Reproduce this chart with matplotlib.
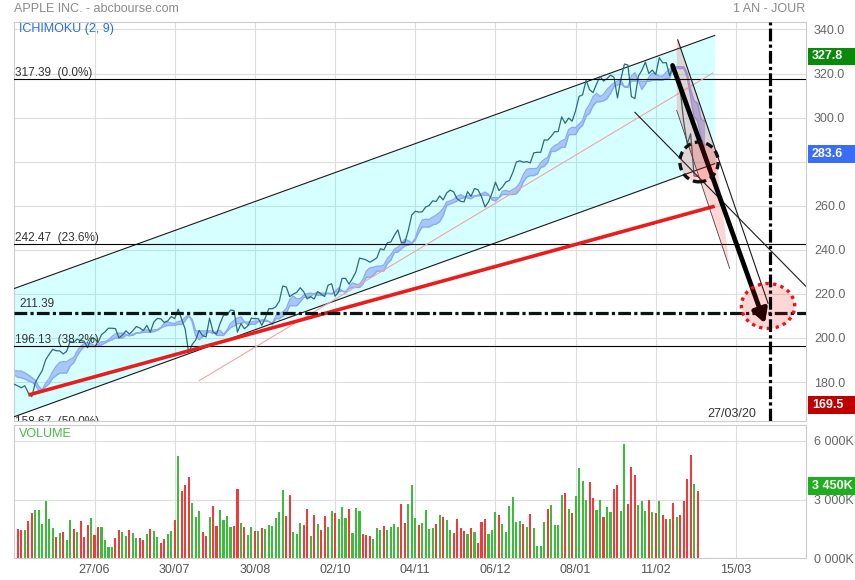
import numpy as np
import pandas as pd
import matplotlib
matplotlib.use('Agg')
import matplotlib.pyplot as plt
import matplotlib.transforms as mtransforms
from matplotlib.patches import Polygon, Ellipse, Rectangle

plt.rcParams['font.family'] = ['Liberation Sans', 'DejaVu Sans']

# ---- data (bar index 0 = first visible day) ----
# a few closes before the first visible bar, the ichimoku band needs them
warmup_close = [197.18, 185.72, 188.66, 190.92, 190.08, 189.00, 183.09, 186.60, 182.78, 179.66, 178.97]

close = [
    178.97, 178.23, 177.38, 178.30, 175.07, 173.30, 179.64, 182.54, 185.22, 190.15,
    192.58, 194.81, 194.19, 194.15, 192.74, 193.89, 198.45, 197.87, 199.46, 198.78,
    198.58, 195.57, 199.80, 199.74, 197.92, 201.55, 202.73, 204.41, 204.41, 204.23,
    200.02, 201.24, 203.23, 201.75, 203.30, 205.21, 204.50, 203.35, 205.66, 202.59,
    207.22, 208.84, 208.67, 207.02, 207.74, 209.68, 208.78, 213.04, 208.43, 204.02,
    193.34, 197.00, 199.04, 203.43, 200.99, 200.48, 208.97, 202.75, 201.74, 206.50,
    210.35, 210.36, 212.64, 212.46, 202.64, 206.49, 204.16, 205.53, 209.01, 208.74,
    208.74, 205.70, 209.19, 213.28, 213.26, 214.17, 216.70, 223.59, 223.09, 218.75,
    219.90, 220.70, 222.77, 220.96, 217.73, 218.72, 217.68, 221.03, 219.89, 218.82,
    223.97, 224.59, 218.96, 220.82, 227.01, 227.06, 224.40, 227.03, 230.09, 236.21,
    235.87, 235.32, 234.37, 235.28, 236.41, 240.51, 239.96, 243.18, 243.58, 246.58,
    249.05, 243.29, 243.26, 248.76, 255.82, 257.50, 257.13, 257.24, 259.43, 260.14,
    262.20, 261.96, 264.47, 262.64, 265.76, 267.10, 266.29, 263.19, 262.01, 261.78,
    266.37, 264.29, 267.84, 267.25, 264.16, 259.45, 261.74, 265.58, 270.71, 266.92,
    268.48, 270.77, 271.46, 275.15, 279.86, 280.41, 279.74, 280.02, 279.44, 284.00,
    284.27, 284.27, 289.91, 289.80, 291.52, 293.65, 293.65, 300.35, 297.43, 299.80,
    298.39, 303.19, 309.63, 310.33, 316.96, 312.68, 311.34, 315.24, 318.73, 316.57,
    317.70, 319.23, 318.31, 308.95, 317.69, 324.34, 323.87, 309.51, 308.66, 318.85,
    321.45, 325.21, 320.03, 321.55, 319.61, 327.20, 324.87, 324.95, 319.00, 323.62,
    320.30, 313.05, 298.18, 288.08, 292.65, 273.52, 273.36]

# volume in thousands
volume = [
    1672, 1517, 1448, 1431, 1931, 2293, 2448, 2448, 1741, 2914,
    2017, 1569, 1103, 1310, 1345, 948, 1948, 1517, 1328, 1914,
    1069, 1724, 2069, 1207, 1586, 1621, 914, 569, 569, 1034,
    1448, 1362, 1121, 1448, 1276, 1034, 1052, 914, 1224, 1483,
    1397, 1103, 793, 983, 1259, 1414, 1948, 5241, 3465, 3741,
    4138, 2810, 2103, 2431, 1362, 1155, 2086, 2672, 1672, 2448,
    1983, 2172, 1603, 1672, 3517, 1827, 1621, 1207, 1603, 1397,
    1379, 1569, 1483, 1724, 1655, 2069, 2345, 3483, 2172, 3258,
    1362, 1259, 1827, 1707, 2534, 1155, 2207, 1776, 1466, 2155,
    1586, 2396, 2293, 2034, 2621, 2052, 2500, 1310, 2552, 2396,
    1241, 1190, 1121, 966, 1534, 1448, 1672, 1431, 1603, 1741,
    1621, 2793, 1827, 2759, 3741, 2069, 1724, 1793, 2448, 1483,
    1569, 1741, 2190, 2121, 1965, 1466, 1310, 2017, 1552, 1414,
    1259, 1534, 1362, 793, 1845, 2000, 1259, 1466, 2379, 2224,
    1741, 1362, 2672, 3121, 1845, 1931, 1741, 1621, 2241, 1552,
    621, 621, 1879, 2534, 2707, 1690, 1690, 3259, 3328, 2500,
    2328, 3172, 4621, 3948, 2983, 3897, 3069, 2466, 3000, 2086,
    2621, 2345, 3534, 3759, 2397, 5862, 2759, 4655, 4241, 2707,
    2931, 2397, 3000, 2345, 2293, 2914, 2190, 2017, 2017, 2828,
    2086, 2190, 2914, 4034, 5293, 3776, 3450]

# g = green bar, r = red bar (10 bars per row)
vol_side = [
    "grrgrrgggg", "ggrgrggrgr", "rrgrrggggr", "rggrggrrgr", "ggrrggrgrr",
    "rgggrrgrrg", "gggrrgrggr", "grggggggrr", "gggrrgrgrr", "ggrgggrggg",
    "rrrgggrggg", "grrgggrggg", "grgrggrrrr", "grgrrrgggr", "ggggggrgrg",
    "gggrggggrg", "rggggrrggr", "ggrrggrrrg", "ggrgrgrrgr", "grrrrgr"]

xtick_pos = [23, 46, 69, 92, 115, 138, 161, 184, 207]
xtick_labels = ['27/06', '30/07', '30/08', '02/10', '04/11', '06/12', '08/01', '11/02', '15/03']
price_ticks = [180, 200, 220, 240, 260, 280, 300, 320, 340]

fib_levels = [317.39, 242.47, 196.13, 158.67]
fib_labels = ['317.39  (0.0%)', '242.47  (23.6%)', '196.13  (38.2%)', '158.67  (50.0%)']
support_level = 211.39

# user drawings: (bar, price) anchors
channel_x = [-0.1, 200.9]
channel_top = [222.4, 337.3]
channel_bot = [164.2, 279.1]
red_trend = ([4.0, 200.9], [174.1, 259.8])
pink_trend = ([53.0, 200.3], [180.6, 320.2])
cross_line = ([178.0, 227.0], [302.4, 223.5])
wedge = [(190.0, 335.3), (190.3, 335.3), (200.9, 287.4), (205.2, 231.5), (190.0, 303.3)]
wedge_edge_r = ([190.3, 216.2], [335.3, 215.7])
wedge_edge_l = ([190.0, 205.2], [303.3, 231.5])
arrow_from = (188.8, 323.7)
arrow_to = (215.3, 206.6)
black_ring = (196.4, 279.9, 11.0, 18.1)
red_ring = (216.2, 214.5, 15.3, 20.4)
target_bar = 216.7
target_label = '27/03/20'

last_high, last_mid, last_low = 327.8, 283.6, 169.5

# ---- ichimoku (2, 9) band ----
ichi_short, ichi_long, ichi_shift = 2, 9, 2
s = pd.Series(warmup_close + close, index=np.arange(-len(warmup_close), len(close)))
def midline(n):
    return (s.rolling(n).max() + s.rolling(n).min()) / 2
tenkan = midline(ichi_short)
kijun = midline(ichi_long)
span_a = (tenkan + kijun) / 2
band_x = s.index.values + ichi_shift

# ---- figure ----
W, H = 855, 580
fig = plt.figure(figsize=(W / 100, H / 100), dpi=100)
ax = fig.add_axes([14 / W, 1 - 421 / H, 791.7 / W, 399 / H])
axv = fig.add_axes([14 / W, 1 - 558.3 / H, 791.7 / W, 133.3 / H])

grid_c = '#dddddd'
for a in (ax, axv):
    a.set_xlim(-0.1, 227)
    a.set_axisbelow(True)
    a.grid(True, color=grid_c, lw=0.8)
    for sp in a.spines.values():
        sp.set_color('#cccccc')
        sp.set_linewidth(0.8)
    a.yaxis.tick_right()
    a.set_xticks(xtick_pos)
    a.tick_params(length=0, labelsize=9, labelcolor='#666666')

ax.set_ylim(162.3, 343.4)
ax.set_yticks(price_ticks)
# the 280 label sits under the blue last-value box in the original
ax.set_yticklabels(['' if v == 280 else f'{v:.1f}' for v in price_ticks])
ax.tick_params(axis='y', pad=6)
ax.tick_params(axis='x', labelbottom=False)

# channel
ax.fill_between(channel_x, channel_bot, channel_top, color='#00ffff', alpha=0.16, lw=0, zorder=1)
ax.plot(channel_x, channel_top, color='#1a1a1a', lw=0.8, zorder=3)
ax.plot(channel_x, channel_bot, color='#1a1a1a', lw=0.8, zorder=3)

# ichimoku band + price
ax.fill_between(band_x, span_a, kijun, color='#7d9cf4', alpha=0.55, lw=0, zorder=2)
ax.plot(band_x, span_a, color='#8ea9f3', lw=1.0, zorder=2)
ax.plot(band_x, kijun, color='#8ea9f3', lw=1.0, zorder=2)
ax.plot(s.index.values, s.values, color='#2b6c78', lw=0.9, zorder=3)

# fibonacci lines
for lvl, lab in zip(fib_levels, fib_labels):
    ax.axhline(lvl, color='black', lw=0.8, zorder=3)
    tr = mtransforms.blended_transform_factory(ax.transAxes, ax.transData) + \
        mtransforms.ScaledTranslation(0.5 / 72, 0.5 / 72, fig.dpi_scale_trans)
    ax.text(0, lvl, lab, transform=tr, fontsize=8.5, color='#333333', va='bottom', ha='left',
            clip_on=True, zorder=4)

dashdot = (0, (4, 1, 1, 1))
ax.axhline(support_level, color='#0a1414', lw=2.3, ls=dashdot, zorder=5)
tr = mtransforms.blended_transform_factory(ax.transAxes, ax.transData) + \
    mtransforms.ScaledTranslation(4 / 72, 2 / 72, fig.dpi_scale_trans)
ax.text(0, support_level, f'{support_level:.2f}', transform=tr, fontsize=8.5, color='#333333',
        va='bottom', ha='left', zorder=5)

# trend lines
ax.plot(*red_trend, color='#e81e1e', lw=2.6, solid_capstyle='butt', zorder=4)
ax.plot(*pink_trend, color='#f2a4a4', lw=0.8, zorder=3)
ax.plot(*cross_line, color='#1a1a1a', lw=0.8, zorder=5)

ax.add_patch(Polygon(wedge, closed=True, facecolor='#ff0000', alpha=0.16, lw=0, zorder=4))
ax.plot(*wedge_edge_r, color='#1a1a1a', lw=0.8, zorder=5)
ax.plot(*wedge_edge_l, color='#444444', lw=0.6, zorder=5)

ax.annotate('', xy=arrow_to, xytext=arrow_from,
            arrowprops=dict(arrowstyle='-|>,head_length=0.5,head_width=0.28', color='black',
                            lw=3.4, shrinkA=0, shrinkB=0, mutation_scale=16), zorder=6)

cx, cy, cw, ch = black_ring
ax.add_patch(Ellipse((cx, cy), cw, ch, facecolor=(1, 0, 0, 0.16), edgecolor='#111111',
                     lw=2.4, ls=(0, (2.2, 1.3)), zorder=6))
cx, cy, cw, ch = red_ring
ax.add_patch(Ellipse((cx, cy), cw, ch, facecolor=(1, 0, 0, 0.16), edgecolor='#ee1111',
                     lw=2.4, ls=(0, (1, 1.3)), zorder=6))

ax.axvline(target_bar, color='black', lw=2.3, ls=dashdot, zorder=7)
ax.annotate(target_label, xy=(target_bar, 162.3), xytext=(-10, 1), textcoords='offset points',
            ha='right', va='bottom', fontsize=9, color='#333333', zorder=7)

ax.text(19 / W, 1 - 29 / H, 'ICHIMOKU (2, 9)', transform=fig.transFigure, fontsize=9,
        color='#2a6fd6', va='center', ha='left')

# ---- volume ----
vx = np.arange(len(volume))
sides = ''.join(vol_side)
vcol = ['#3dbb3d' if c == 'g' else '#f23a3a' for c in sides]
axv.bar(vx, volume, width=0.6, color=vcol, zorder=2)
axv.set_ylim(0, 6813)
axv.set_yticks([0, 3000, 6000])
axv.set_yticklabels(['0 000K', '3 000K', '6 000K'])
axv.tick_params(axis='y', pad=6)
axv.tick_params(axis='x', pad=4, labelsize=9, labelcolor='#555555')
axv.set_xticklabels(xtick_labels)
axv.text(19 / W, 1 - 434 / H, 'VOLUME', transform=fig.transFigure, fontsize=9,
         color='#44bb44', va='center', ha='left')

# ---- value boxes on the right scale ----
def value_box(a, val, txt, color, box_px=17.6):
    inv = a.transData.inverted()
    h = abs(inv.transform((0, 0))[1] - inv.transform((0, box_px))[1])
    tr = mtransforms.blended_transform_factory(fig.transFigure, a.transData)
    a.add_patch(Rectangle((808 / W, val - h / 2), 47 / W, h, transform=tr, facecolor=color,
                          lw=0, clip_on=False, zorder=10))
    a.text(812 / W, val, txt, transform=tr, color='white', fontsize=9, fontweight='bold',
           va='center', ha='left', clip_on=False, zorder=11)

value_box(ax, last_high, f'{last_high:.1f}', '#0a8a0a')
value_box(ax, last_mid, f'{last_mid:.1f}', '#3a6cf6')
value_box(ax, last_low, f'{last_low:.1f}', '#c00000')
value_box(axv, volume[-1] + 250, '3 450K', '#1fae1f')

fig.text(14 / W, 1 - 9 / H, 'APPLE INC. - abcbourse.com', fontsize=9, color='#8a8a8a',
         va='center', ha='left')
fig.text(805.7 / W, 1 - 9 / H, '1 AN - JOUR', fontsize=9, color='#8a8a8a', va='center', ha='right')

fig.savefig('out.png', dpi=100)
